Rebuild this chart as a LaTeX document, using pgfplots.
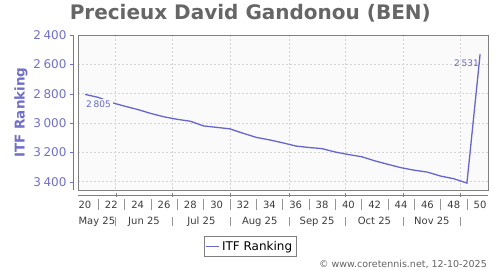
\documentclass[border=0pt]{standalone}
\usepackage{fontspec}
\setmainfont{DejaVu Sans}
\usepackage{pgfplots}
\usepackage{pgfplotstable}
\pgfplotsset{compat=1.18}
\definecolor{linec}{RGB}{102,102,204}
\definecolor{ytc}{RGB}{112,112,204}
\definecolor{titlec}{RGB}{102,102,102}
\definecolor{plotbg}{RGB}{250,250,250}
\definecolor{framec}{RGB}{128,128,128}
\definecolor{gridc}{RGB}{212,212,212}
\definecolor{sepc}{RGB}{150,150,150}
\definecolor{xtc}{RGB}{60,60,60}
\definecolor{copyc}{RGB}{100,100,100}
\newcommand{\fs}[1]{\fontsize{#1bp}{#1bp}\selectfont}

\pgfplotstableread{
w r
20 2805
21 2825
22 2860
23 2885
24 2908
25 2935
26 2958
27 2975
28 2988
29 3020
30 3030
31 3040
32 3070
33 3098
34 3115
35 3135
36 3157
37 3167
38 3175
39 3198
40 3215
41 3230
42 3258
43 3282
44 3305
45 3322
46 3335
47 3362
48 3380
49 3410
50 2531
}\datatable

\begin{document}
\begin{tikzpicture}
\path[use as bounding box] (-78bp,-80bp) rectangle (422bp,190bp);

% main plot area
\begin{axis}[
  at={(0,0)}, anchor=south west,
  width=410bp, height=155bp, scale only axis,
  xmin=19.47, xmax=50.6, ymin=2400, ymax=3457, y dir=reverse,
  axis background/.style={fill=plotbg},
  axis line style={draw=framec, line width=0.8bp},
  xtick={22.33,26.62,31.05,35.48,39.76,44.19,48.48},
  xticklabels={}, ytick={2400,2600,...,3400}, yticklabels={},
  major tick length=0,
  xmajorgrids, ymajorgrids,
  grid style={gridc, dash pattern=on 2bp off 2bp, line width=0.5bp},
  legend style={at={(axis description cs:0.4195,-0.3626)}, anchor=center,
    draw=framec, font=\fs{12}, inner xsep=1.5bp, inner ysep=2.5bp,
    nodes={inner sep=2bp}},
  legend image code/.code={\draw[#1] (0bp,0bp) -- (13bp,0bp);},
]
\addplot[linec, line width=1.3bp, mark=none] table[x=w, y=r] {\datatable};
\addlegendentry{ITF Ranking}
\addplot[draw=none, mark=none, forget plot, nodes near coords,
  point meta=explicit symbolic,
  nodes near coords style={anchor=north west, font=\fs{9}, text=linec,
    fill=plotbg, inner sep=2bp, xshift=-1bp, yshift=-4.7bp}]
  coordinates {(20,2805) [2\hspace{0.2em}805]};
\addplot[draw=none, mark=none, forget plot, nodes near coords,
  point meta=explicit symbolic,
  nodes near coords style={anchor=north east, font=\fs{9}, text=linec,
    inner sep=2bp, xshift=1bp, yshift=-3bp}]
  coordinates {(50,2531) [2\hspace{0.2em}531]};
\end{axis}

% y axis (offset)
\begin{axis}[
  at={(-5bp,0)}, anchor=south west,
  width=1bp, height=155bp, scale only axis,
  ymin=2400, ymax=3457, y dir=reverse, xmin=0, xmax=1,
  hide x axis, axis y line*=left,
  y axis line style={draw=ytc, -},
  ytick={2400,2600,...,3400},
  tick style={draw=ytc}, major tick length=3bp, tick align=outside,
  yticklabel style={text=ytc, font=\fs{12}},
  /pgf/number format/assume math mode=true,
  /pgf/number format/1000 sep={\hspace{0.22em}},
  scaled y ticks=false,
]
\addplot[draw=none] coordinates {(0,2400)};
\end{axis}

% x axis line (offset)
\begin{axis}[
  at={(0,-5bp)}, anchor=south west,
  width=410bp, height=1bp, scale only axis,
  xmin=19.47, xmax=50.6, ymin=0, ymax=1,
  hide y axis, axis x line*=bottom,
  x axis line style={draw=framec, -},
  xtick={22.33,26.62,31.05,35.48,39.76,44.19,48.48}, xticklabels={},
  tick style={draw=framec}, major tick length=4bp, tick align=center,
]
\addplot[draw=none] coordinates {(20,0)};
\end{axis}

% week labels row
\begin{axis}[
  at={(0,-20bp)}, anchor=south west,
  width=410bp, height=11bp, scale only axis,
  xmin=19.47, xmax=50.6, ymin=0, ymax=1,
  axis line style={draw=none}, ytick=\empty,
  xtick={20,22,...,50}, minor xtick={21,23,...,49},
  major tick length=0, minor tick length=0,
  xminorgrids, minor grid style={draw=sepc, line width=0.6bp},
  xticklabel style={anchor=base, yshift=1.7bp, inner sep=0pt, font=\fs{10}, text=xtc},
  /pgf/number format/assume math mode=true,
]
\addplot[draw=none] coordinates {(20,0)};
\end{axis}

% month labels row
\begin{axis}[
  at={(0,-36bp)}, anchor=south west,
  width=410bp, height=9bp, scale only axis,
  xmin=19.47, xmax=50.6, ymin=0, ymax=1,
  axis line style={draw=none}, ytick=\empty,
  xtick={20.9,24.48,28.84,33.27,37.62,41.98,46.34},
  xticklabels={May 25,Jun 25,Jul 25,Aug 25,Sep 25,Oct 25,Nov 25},
  minor xtick={22.33,26.62,31.05,35.48,39.76,44.19,48.48},
  major tick length=0, minor tick length=0,
  xminorgrids, minor grid style={draw=sepc, line width=0.6bp},
  xticklabel style={anchor=base, yshift=1.7bp, inner sep=0pt, font=\fs{10}, text=xtc},
]
\addplot[draw=none] coordinates {(20,0)};
\end{axis}

\node[rotate=90, text=ytc, font=\fs{13.5}\bfseries, anchor=center] at (-57bp,77.5bp) {ITF Ranking};
\node[anchor=base, font=\fs{20}\bfseries, text=titlec, inner sep=0pt] at (172.3bp,170bp) {Precieux David Gandonou (BEN)};
\node[anchor=base east, font=\fs{9.5}, text=copyc, inner sep=0pt] at (409bp,-77.7bp) {© www.coretennis.net, 12-10-2025};
\end{tikzpicture}
\end{document}
